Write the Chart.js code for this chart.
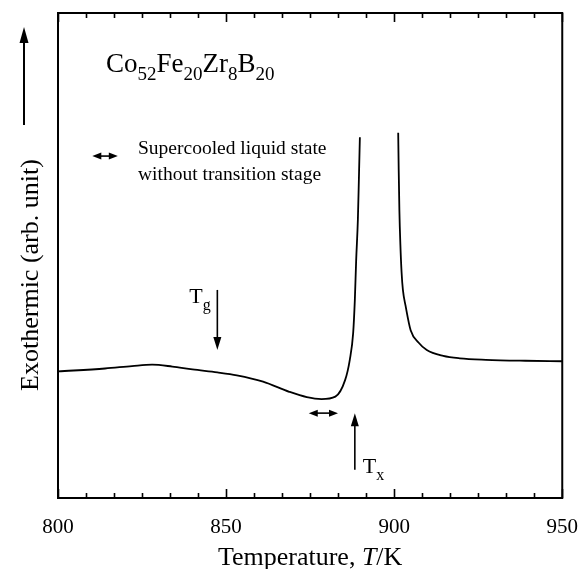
<!DOCTYPE html>
<html>
<head>
<meta charset="utf-8">
<script src="https://cdn.jsdelivr.net/npm/chart.js@4"></script>
<style>
  body { margin: 0; background: #fff; }
  #wrap { width: 587px; height: 569px; }
</style>
</head>
<body>
<div id="wrap"><canvas id="dscChart"></canvas></div>
<script>
// DSC trace, temperature in K, signal in arbitrary units (0..100 of plot height)
const temps = [800, 814, 822, 828, 834, 840, 847.4, 853.2, 861, 868.8, 874, 878.4, 882.5,
  885.4, 886.8, 887.8, 888.3, 888.7, 889.2, 889.5, 889.8,
  895,
  901.2, 901.35, 901.55, 901.85, 902.2, 902.6, 903.4, 904.9, 907.3, 909.7, 914.6, 919.5, 927.3, 939, 950];
const signal = [26.1, 26.7, 27.2, 27.5, 27.1, 26.5, 25.9, 25.3, 24.0, 21.9, 20.8, 20.4, 20.9,
  24.3, 28.5, 34.0, 40.8, 49.1, 57.3, 65.6, 74.4,
  null,
  75.3, 67.6, 59.4, 52.2, 46.6, 42.9, 39.6, 34.6, 32.0, 30.5, 29.3, 28.8, 28.5, 28.3, 28.2];
const xTicks = [800, 850, 900, 950];
const minorPerMajor = 6;

const serif = "'Liberation Serif', 'Times New Roman', serif";

// arrows and labels, given in data coordinates
const marks = {
  tg: { x: 847.4, y0: 42.9, y1: 30.5 },
  tx: { x: 888.3, y0: 5.8, y1: 17.5 },
  gap: { x0: 874.6, x1: 883.3, y: 17.5 },
  legendArrow: { x0: 810.2, x1: 817.8, y: 70.5 }
};

function arrowHead(ctx, x, y, dx, dy, len, half) {
  // tip at (x,y), pointing along (dx,dy)
  const bx = x - dx * len, by = y - dy * len;
  ctx.beginPath();
  ctx.moveTo(x, y);
  ctx.lineTo(bx - dy * half, by + dx * half);
  ctx.lineTo(bx + dy * half, by - dx * half);
  ctx.closePath();
  ctx.fill();
}

function doubleArrow(ctx, xa, xb, y) {
  ctx.beginPath();
  ctx.moveTo(xa + 4, y);
  ctx.lineTo(xb - 4, y);
  ctx.stroke();
  arrowHead(ctx, xa, y, -1, 0, 9, 3.5);
  arrowHead(ctx, xb, y, 1, 0, 9, 3.5);
}

function subText(ctx, x, y, parts) {
  // parts: [text, size, dy]
  for (const [t, size, dy] of parts) {
    ctx.font = size + 'px ' + serif;
    ctx.fillText(t, x, y + dy);
    x += ctx.measureText(t).width;
  }
  return x;
}

const framePlugin = {
  id: 'frame',
  afterDraw(chart) {
    const ctx = chart.ctx;
    const { left, right, top, bottom } = chart.chartArea;
    const xs = chart.scales.x, ys = chart.scales.y;
    ctx.save();
    ctx.strokeStyle = '#000';
    ctx.fillStyle = '#000';
    ctx.lineWidth = 2;
    ctx.strokeRect(left, top, right - left, bottom - top);

    // inward ticks, top and bottom
    ctx.lineWidth = 1.6;
    for (let i = 0; i < xTicks.length; i++) {
      for (let k = 0; k < minorPerMajor; k++) {
        if (i === xTicks.length - 1 && k > 0) break;
        const v = xTicks[i] + k * (50 / minorPerMajor);
        const px = Math.round(xs.getPixelForValue(v)) + 0.5;
        const len = k === 0 ? 9 : 5;
        ctx.beginPath();
        ctx.moveTo(px, bottom); ctx.lineTo(px, bottom - len);
        ctx.moveTo(px, top); ctx.lineTo(px, top + len);
        ctx.stroke();
      }
    }

    // x title
    ctx.textBaseline = 'alphabetic';
    ctx.textAlign = 'left';
    ctx.font = '26px ' + serif;
    const p1 = 'Temperature, ', p3 = '/K';
    let w = ctx.measureText(p1).width + ctx.measureText(p3).width;
    ctx.font = 'italic 26px ' + serif;
    w += ctx.measureText('T').width;
    let tx = (left + right) / 2 - w / 2;
    const ty = 565;
    ctx.font = '26px ' + serif; ctx.fillText(p1, tx, ty); tx += ctx.measureText(p1).width;
    ctx.font = 'italic 26px ' + serif; ctx.fillText('T', tx, ty); tx += ctx.measureText('T').width;
    ctx.font = '26px ' + serif; ctx.fillText(p3, tx, ty);

    // y title, rotated
    ctx.save();
    ctx.translate(38, 275);
    ctx.rotate(-Math.PI / 2);
    ctx.textAlign = 'center';
    ctx.font = '26px ' + serif;
    ctx.fillText('Exothermic (arb. unit)', 0, 0);
    ctx.restore();

    // y direction arrow
    ctx.lineWidth = 2;
    ctx.beginPath();
    ctx.moveTo(24, 125); ctx.lineTo(24, 38);
    ctx.stroke();
    arrowHead(ctx, 24, 27, 0, -1, 16, 4.5);

    // composition
    ctx.textAlign = 'left';
    subText(ctx, 106, 72, [['Co', 27, 0], ['52', 19, 8], ['Fe', 27, 0], ['20', 19, 8],
      ['Zr', 27, 0], ['8', 19, 8], ['B', 27, 0], ['20', 19, 8]]);

    // legend-like note
    ctx.lineWidth = 1.6;
    doubleArrow(ctx, xs.getPixelForValue(marks.legendArrow.x0), xs.getPixelForValue(marks.legendArrow.x1),
      ys.getPixelForValue(marks.legendArrow.y));
    ctx.font = '19.5px ' + serif;
    ctx.fillText('Supercooled liquid state', 138, 154);
    ctx.fillText('without transition stage', 138, 180);

    // Tg arrow
    const gx = xs.getPixelForValue(marks.tg.x);
    const g0 = ys.getPixelForValue(marks.tg.y0), g1 = ys.getPixelForValue(marks.tg.y1);
    ctx.beginPath(); ctx.moveTo(gx, g0); ctx.lineTo(gx, g1 - 10); ctx.stroke();
    arrowHead(ctx, gx, g1, 0, 1, 13, 4);
    subText(ctx, gx - 28, g0 + 13, [['T', 22, 0], ['g', 16, 7]]);

    // Tx arrow
    const xx = xs.getPixelForValue(marks.tx.x);
    const x0 = ys.getPixelForValue(marks.tx.y0), x1 = ys.getPixelForValue(marks.tx.y1);
    ctx.beginPath(); ctx.moveTo(xx, x0); ctx.lineTo(xx, x1 + 10); ctx.stroke();
    arrowHead(ctx, xx, x1, 0, -1, 13, 4);
    subText(ctx, xx + 8, x0 + 3, [['T', 22, 0], ['x', 16, 7]]);

    // supercooled region arrow
    doubleArrow(ctx, xs.getPixelForValue(marks.gap.x0), xs.getPixelForValue(marks.gap.x1),
      ys.getPixelForValue(marks.gap.y));
    ctx.restore();
  }
};

new Chart(document.getElementById('dscChart'), {
  type: 'line',
  data: {
    datasets: [{
      data: temps.map((t, i) => ({ x: t, y: signal[i] })),
      borderColor: '#000',
      borderWidth: 1.8,
      pointRadius: 0,
      cubicInterpolationMode: 'monotone',
      spanGaps: false,
      fill: false
    }]
  },
  options: {
    responsive: true,
    maintainAspectRatio: false,
    animation: false,
    events: [],
    layout: { padding: { top: 13, right: 16, left: 0, bottom: 0 } },
    plugins: { legend: { display: false }, tooltip: { enabled: false } },
    scales: {
      x: {
        type: 'linear',
        min: 800,
        max: 950,
        afterFit: s => { s.height = 71; },
        afterBuildTicks: s => { s.ticks = xTicks.map(v => ({ value: v })); },
        grid: { display: false },
        border: { display: false },
        ticks: { color: '#000', padding: 9, font: { family: serif, size: 21 }, maxRotation: 0 }
      },
      y: {
        min: 0,
        max: 100,
        afterFit: s => { s.width = 58; },
        grid: { display: false },
        border: { display: false },
        ticks: { display: false }
      }
    }
  },
  plugins: [framePlugin]
});
</script>
</body>
</html>
